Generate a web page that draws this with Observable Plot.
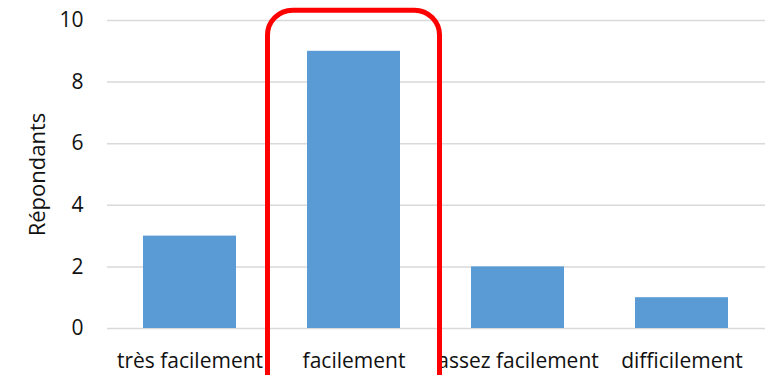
<!DOCTYPE html>
<html>
<head>
<meta charset="utf-8">
<script src="https://cdn.jsdelivr.net/npm/d3@7"></script>
<script src="https://cdn.jsdelivr.net/npm/@observablehq/plot@0.6"></script>
<style>
  html, body { margin: 0; padding: 0; background: #fff; }
  #chart svg { display: block; }
</style>
</head>
<body>
<div id="chart"></div>
<script>
const categories = ["très facilement", "facilement", "assez facilement", "difficilement"];
const values = [3, 9, 2, 1];
const yTicks = [0, 2, 4, 6, 8, 10];
const yLabel = ["Répondants"];
const highlight = ["facilement"];
const highlightRange = [-3, 10.32];

const data = categories.map((c, i) => ({category: c, value: values[i]}));
const hl = highlight.map(c => ({category: c, y1: highlightRange[0], y2: highlightRange[1]}));

const chart = Plot.plot({
  width: 769,
  height: 375,
  marginLeft: 107,
  marginRight: 4,
  marginTop: 20,
  marginBottom: 47,
  style: {fontFamily: "'Open Sans', sans-serif", fontSize: "21px", color: "#111", background: "#fff", overflow: "visible"},
  x: {domain: categories, paddingInner: 0.43, paddingOuter: 0.215, label: null},
  y: {domain: [0, 10], label: null},
  marks: [
    Plot.gridY(yTicks, {stroke: "#d9d9d9", strokeOpacity: 1, strokeWidth: 1.5}),
    Plot.barY(data, {x: "category", y: "value", fill: "#5b9bd5"}),
    Plot.axisY(yTicks, {tickSize: 0, tickPadding: 24, label: null, fontSize: 21}),
    Plot.axisX({tickSize: 0, tickPadding: 25, fontSize: 21, label: null}),
    Plot.text(yLabel, {text: d => d, frameAnchor: "left", textAnchor: "middle", rotate: -90, dx: -70, fontSize: 22, fill: "#111"}),
    Plot.barY(hl, {x: "category", y1: "y1", y2: "y2", fill: "none", stroke: "#ff0000", strokeWidth: 5, rx: 25, insetLeft: -39.5, insetRight: -39.5, clip: false})
  ]
});
document.getElementById("chart").appendChild(chart);
</script>
</body>
</html>
